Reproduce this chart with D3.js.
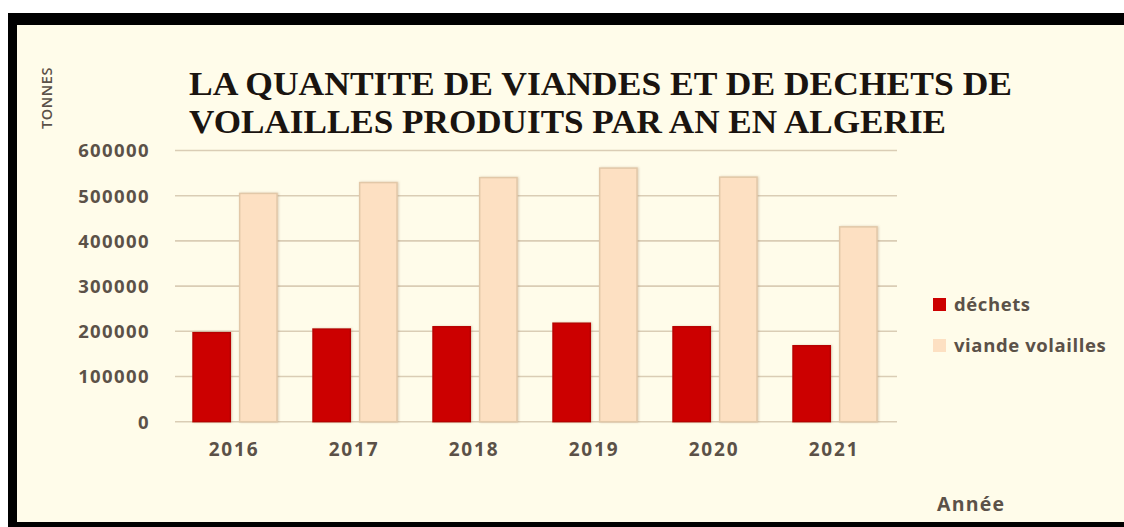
<!DOCTYPE html>
<html>
<head>
<meta charset="utf-8">
<script src="https://cdn.jsdelivr.net/npm/d3@7"></script>
<style>
  html, body { margin: 0; padding: 0; background: #ffffff; }
  svg { display: block; }
</style>
</head>
<body>
<svg id="chart" width="1124" height="527"></svg>
<script>
// Production de volailles en Algérie (tonnes)
const years = ["2016", "2017", "2018", "2019", "2020", "2021"];
const dechets = [197000, 205000, 210000, 218000, 210000, 168000];
const viande = [505000, 529000, 540000, 561000, 541000, 431000];
const seriesNames = ["déchets", "viande volailles"];
const seriesColors = ["#cc0000", "#fde0c2"];
const yTicks = [0, 100000, 200000, 300000, 400000, 500000, 600000];

const svg = d3.select("#chart");
const W = 1124, H = 527;

// Cadre noir et fond crème
svg.append("rect").attr("x", 8).attr("y", 13).attr("width", W - 8).attr("height", H - 13)
  .attr("fill", "#000");
svg.append("rect").attr("x", 17).attr("y", 25).attr("width", W - 17).attr("height", 497)
  .attr("fill", "#fffcea");

const plot = { left: 175, right: 895, top: 150.5, bottom: 421.7 };

const x = d3.scaleBand().domain(years).range([plot.left, plot.right]).paddingInner(0).paddingOuter(0);
const xs = d3.scaleBand().domain(seriesNames).range([18, 102]).paddingInner(0.2);
const y = d3.scaleLinear().domain([0, 600000]).range([plot.bottom, plot.top]);

const textCol = "#5b5148";

// Ombre légère des barres
const defs = svg.append("defs");
const f = defs.append("filter").attr("id", "shadow").attr("x", "-20%").attr("y", "-5%")
  .attr("width", "140%").attr("height", "110%");
f.append("feDropShadow").attr("dx", 1).attr("dy", 0).attr("stdDeviation", 1)
  .attr("flood-color", "#a08060").attr("flood-opacity", 0.35);

// Grille horizontale
svg.append("g")
  .selectAll("line").data(yTicks).join("line")
  .attr("x1", plot.left).attr("x2", plot.right + 2)
  .attr("y1", d => y(d)).attr("y2", d => y(d))
  .attr("stroke", "#dacdb5").attr("stroke-width", 1.6);

// Axe Y
const yAxis = svg.append("g")
  .attr("transform", `translate(${plot.left - 25},0)`)
  .call(d3.axisLeft(y).tickValues(yTicks).tickFormat(d3.format("d")).tickSize(0).tickPadding(0));
yAxis.select(".domain").remove();
yAxis.selectAll("text")
  .attr("fill", textCol)
  .style("font-family", "'Open Sans', sans-serif")
  .style("font-weight", "700")
  .style("font-size", "18.5px")
  .style("letter-spacing", "1.4px")
  .attr("dy", "0.35em");

// Axe X
const xAxis = svg.append("g")
  .attr("transform", `translate(0,${plot.bottom})`)
  .call(d3.axisBottom(x).tickSize(0).tickPadding(0));
xAxis.select(".domain").remove();
xAxis.selectAll("text")
  .attr("fill", textCol)
  .attr("x", -1)
  .attr("y", 28)
  .attr("dy", "0.35em")
  .style("font-family", "'Open Sans', sans-serif")
  .style("font-weight", "700")
  .style("font-size", "19px")
  .style("letter-spacing", "1.8px");

// Barres
const rows = years.map((yr, i) => ({ year: yr, values: [dechets[i], viande[i]] }));
const groups = svg.append("g").selectAll("g").data(rows).join("g")
  .attr("transform", d => `translate(${x(d.year)},0)`);
groups.selectAll("rect")
  .data(d => d.values.map((v, k) => ({ name: seriesNames[k], value: v, k })))
  .join("rect")
  .attr("x", d => xs(d.name))
  .attr("width", xs.bandwidth())
  .attr("y", d => y(d.value))
  .attr("height", d => plot.bottom - y(d.value))
  .attr("fill", d => seriesColors[d.k])
  .attr("stroke", d => d.k === 0 ? "#b80000" : "#e2c8a8")
  .attr("stroke-width", 1.5)
  .attr("filter", "url(#shadow)");

// Titre
const titleLines = [
  { text: "LA QUANTITE DE VIANDES ET DE DECHETS DE", y: 95, len: 823 },
  { text: "VOLAILLES PRODUITS PAR AN EN ALGERIE", y: 133, len: 757 }
];
svg.append("g").selectAll("text").data(titleLines).join("text")
  .attr("x", 189).attr("y", d => d.y)
  .attr("textLength", d => d.len)
  .attr("lengthAdjust", "spacingAndGlyphs")
  .attr("fill", "#1a1410")
  .style("font-family", "'Liberation Serif', 'Times New Roman', serif")
  .style("font-weight", "700")
  .style("font-size", "34px")
  .text(d => d.text);

// Titre de l'axe Y
svg.append("text")
  .attr("transform", "translate(52,98) rotate(-90)")
  .attr("text-anchor", "middle")
  .attr("fill", textCol)
  .style("font-family", "'Open Sans', sans-serif")
  .style("font-weight", "600")
  .style("font-size", "14.5px")
  .style("letter-spacing", "0.6px")
  .text("TONNES");

// Titre de l'axe X
svg.append("text")
  .attr("x", 937).attr("y", 511)
  .attr("fill", textCol)
  .style("font-family", "'Open Sans', sans-serif")
  .style("font-weight", "700")
  .style("font-size", "19.5px")
  .style("letter-spacing", "1.2px")
  .text("Année");

// Légende
const legend = svg.append("g").selectAll("g").data(seriesNames).join("g")
  .attr("transform", (d, i) => `translate(933,${298 + i * 41})`);
legend.append("rect")
  .attr("width", 13).attr("height", 13)
  .attr("fill", (d, i) => seriesColors[i]);
legend.append("text")
  .attr("x", 21).attr("y", 12.5)
  .attr("fill", textCol)
  .style("font-family", "'Open Sans', sans-serif")
  .style("font-weight", "700")
  .style("font-size", "18.5px")
  .style("letter-spacing", "0.6px")
  .text(d => d);
</script>
</body>
</html>
